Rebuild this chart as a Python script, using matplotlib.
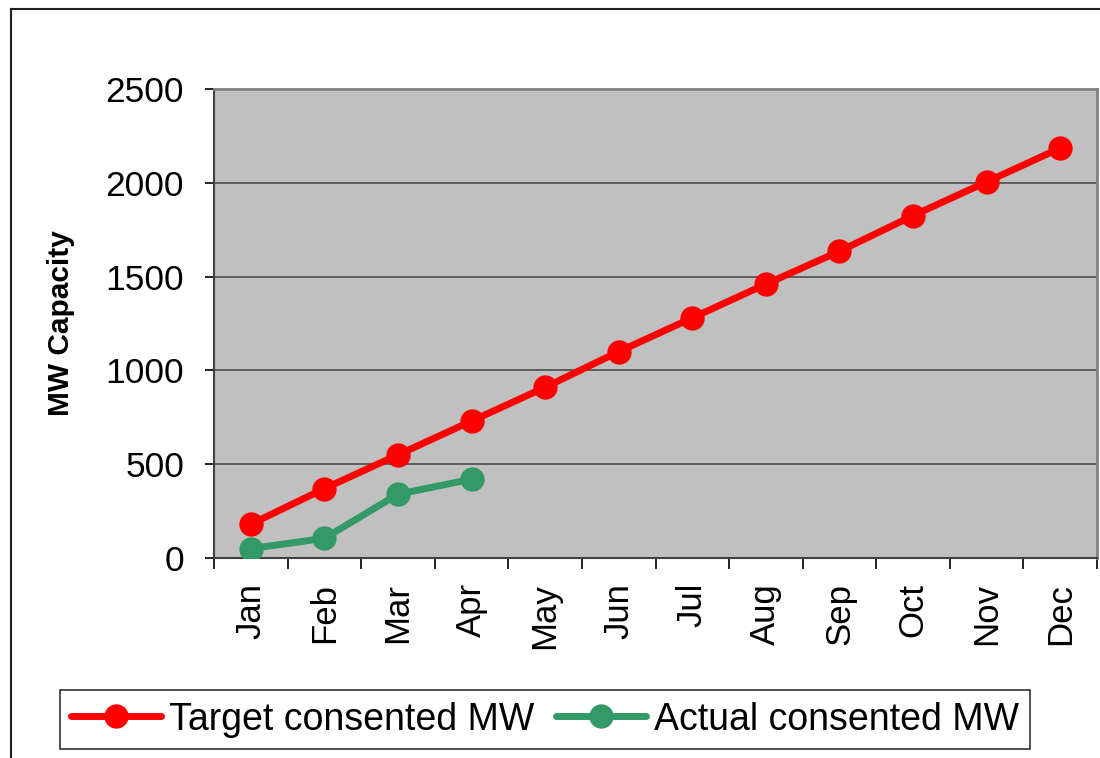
import matplotlib
matplotlib.use("Agg")
import matplotlib.pyplot as plt
from matplotlib.lines import Line2D

months = ["Jan", "Feb", "Mar", "Apr", "May", "Jun", "Jul", "Aug", "Sep", "Oct", "Nov", "Dec"]
target_mw = [180, 370, 550, 730, 910, 1100, 1280, 1460, 1635, 1825, 2005, 2185]
actual_mw = [50, 105, 340, 420]
y_ticks = [0, 500, 1000, 1500, 2000, 2500]

plt.rcParams['font.family'] = ['Liberation Sans', 'DejaVu Sans']

fig = plt.figure(figsize=(11, 7.58), dpi=100)
ax = fig.add_axes([214/1100, 1 - 558/758, (1097-214)/1100, (558-89)/758])
ax.set_facecolor('#C0C0C0')

x_t = list(range(len(target_mw)))
x_a = list(range(len(actual_mw)))
ax.plot(x_t, target_mw, color='#FF0000', lw=5, marker='o', ms=16.5,
        label='Target consented MW', solid_capstyle='round', zorder=3)
ax.plot(x_a, actual_mw, color='#339966', lw=5, marker='o', ms=16.5,
        label='Actual consented MW', solid_capstyle='round', zorder=3)

ax.set_xlim(-0.5, len(months) - 0.5)
ax.set_ylim(0, 2500)
ax.set_yticks(y_ticks)
ax.set_yticklabels([str(v) for v in y_ticks])
ax.yaxis.grid(True, color='#555555', lw=1.3)
ax.set_axisbelow(True)

ax.set_xticks([i - 0.5 for i in range(len(months) + 1)])
ax.set_xticklabels([])
ax.set_xticks(list(range(len(months))), minor=True)
ax.set_xticklabels(months, minor=True, rotation=90, fontsize=25)
ax.tick_params(axis='x', which='major', length=8, width=1.2, color='black', direction='out')
ax.tick_params(axis='x', which='minor', length=0, pad=18)
ax.tick_params(axis='y', which='major', length=6.5, width=1.2, color='black',
               direction='out', labelsize=25.5, pad=15)

for side in ['top', 'right']:
    ax.spines[side].set_color('#808080')
    ax.spines[side].set_linewidth(2)
for side in ['left', 'bottom']:
    ax.spines[side].set_color('#404040')
    ax.spines[side].set_linewidth(1.5)

ax.set_ylabel('MW Capacity', fontsize=21.5, fontweight='bold')
ax.yaxis.set_label_coords(-0.157, 0.5)

leg = ax.legend(loc='center', bbox_to_anchor=(545/1100, 1 - 719.5/758),
                bbox_transform=fig.transFigure, ncol=2, fontsize=27,
                frameon=True, fancybox=False, edgecolor='black',
                handlelength=2.4, handletextpad=0.2, columnspacing=0.6,
                borderpad=0.3, borderaxespad=0)
leg.get_frame().set_linewidth(1.2)

# outer chart frame
fig.add_artist(Line2D([11/1100, 11/1100], [0, 1 - 9/758], color='#202020', lw=1.5,
                      transform=fig.transFigure))
fig.add_artist(Line2D([11/1100, 1], [1 - 9/758, 1 - 9/758], color='#202020', lw=1.5,
                      transform=fig.transFigure))

fig.savefig('out.png', dpi=100)
